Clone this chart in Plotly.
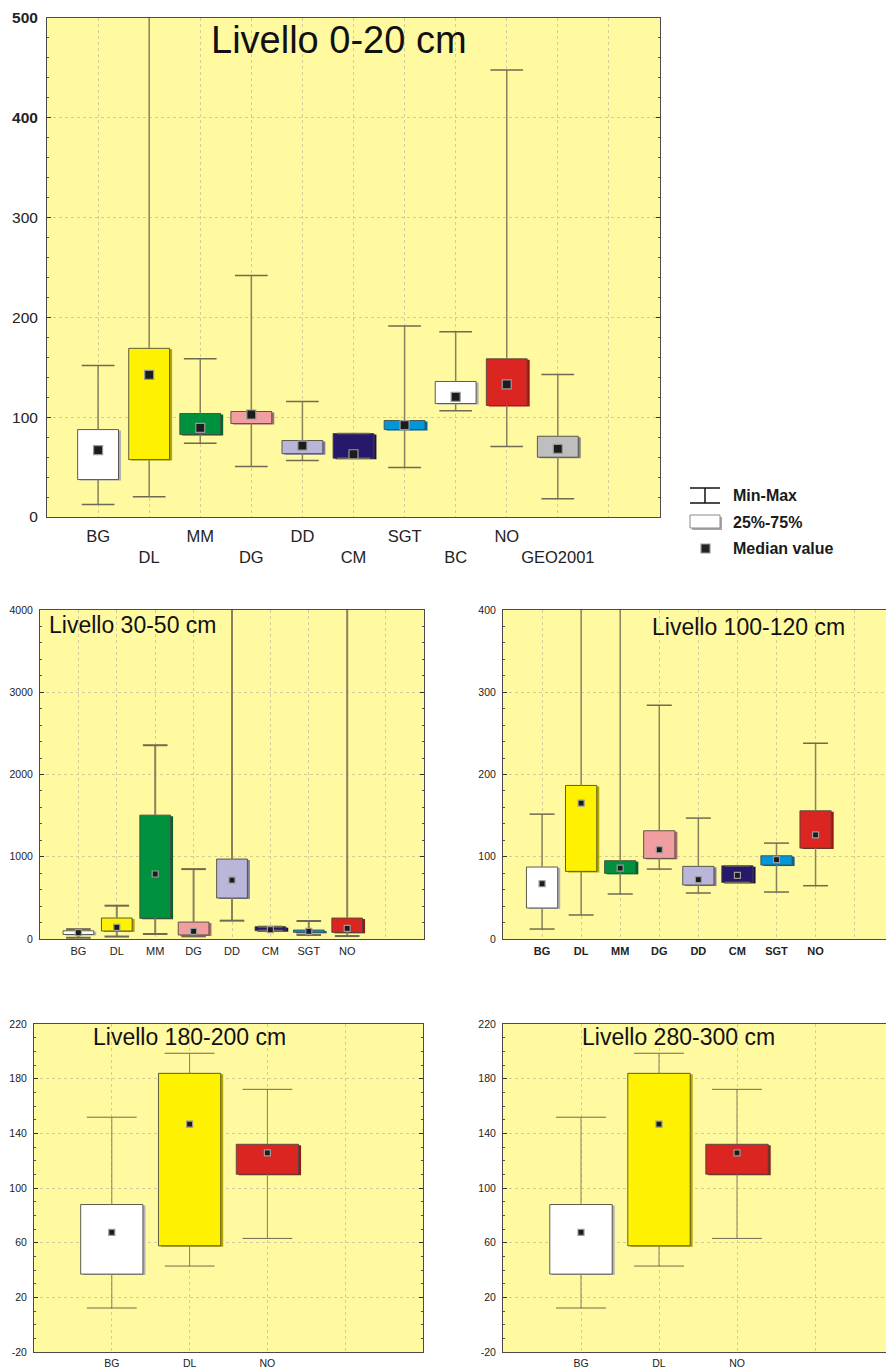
import plotly.graph_objects as go

FIG_W, FIG_H = 886, 1371

# Fill colour of each sampling group
COLORS = {
    "BG": "#ffffff", "DL": "#fff200", "MM": "#00913f", "DG": "#f19ea0",
    "DD": "#b9b6da", "CM": "#26196c", "SGT": "#0096db", "BC": "#ffffff",
    "NO": "#da2520", "GEO2001": "#bebebe",
}

# ---- Livello 0-20 cm ----
cats_0_20 = ["BG", "DL", "MM", "DG", "DD", "CM", "SGT", "BC", "NO", "GEO2001"]
min_0_20 = [12.4, 20.4, 73.9, 50.5, 56.5, 58.9, 49.5, 106.4, 70.6, 18.4]
q1_0_20 = [37.5, 57.5, 82.6, 93.6, 63.5, 58.9, 87.6, 113.7, 111.7, 59.9]
med_0_20 = [67.0, 142.5, 89.3, 102.7, 71.6, 62.9, 92.0, 120.4, 132.8, 68.2]
q3_0_20 = [87.6, 169.0, 103.7, 105.7, 76.6, 83.6, 96.7, 135.8, 158.5, 80.9]
max_0_20 = [151.8, 620.0, 158.5, 242.0, 115.7, 83.6, 191.3, 185.6, 448.0, 142.8]

# ---- Livello 30-50 cm ----
cats_30_50 = ["BG", "DL", "MM", "DG", "DD", "CM", "SGT", "NO"]
min_30_50 = [15, 30, 61, 32, 223, 101, 49, 36]
q1_30_50 = [55, 97, 251, 49, 498, 101, 81, 81]
med_30_50 = [78, 142, 790, 93, 717, 113, 93, 130]
q3_30_50 = [100, 255, 1506, 206, 972, 150, 109, 255]
max_30_50 = [120, 405, 2356, 850, 5200, 150, 219, 4600]

# ---- Livello 100-120 cm ----
cats_100_120 = ["BG", "DL", "MM", "DG", "DD", "CM", "SGT", "NO"]
min_100_120 = [12.1, 29.2, 54.7, 85.0, 55.9, 68.8, 57.1, 64.8]
q1_100_120 = [37.7, 82.2, 79.8, 98.0, 65.6, 68.8, 89.9, 110.5]
med_100_120 = [67.2, 165.2, 86.2, 108.5, 72.1, 77.3, 96.4, 126.7]
q3_100_120 = [87.5, 186.7, 95.2, 131.6, 88.3, 89.0, 101.2, 155.9]
max_100_120 = [151.8, 520.0, 540.0, 284.2, 147.0, 89.0, 116.6, 238.0]

# ---- Livello 180-200 cm ----
cats_180_200 = ["BG", "DL", "NO"]
min_180_200 = [12.2, 42.9, 63.1]
q1_180_200 = [37.0, 57.7, 110.1]
med_180_200 = [67.5, 146.7, 125.7]
q3_180_200 = [87.9, 183.9, 132.0]
max_180_200 = [151.8, 198.6, 172.2]

# ---- Livello 280-300 cm ----
cats_280_300 = ["BG", "DL", "NO"]
min_280_300 = [12.2, 42.9, 63.1]
q1_280_300 = [37.0, 57.7, 110.1]
med_280_300 = [67.5, 146.7, 125.7]
q3_280_300 = [87.9, 183.9, 132.0]
max_280_300 = [151.8, 198.6, 172.2]

legend_labels = ["Min-Max", "25%-75%", "Median value"]

FONT = "Arial, Liberation Sans, sans-serif"
BG_YELLOW = "#fff9a0"
GRID = "#d4ce96"
WHISK = "#87835e"
CAP = "#6f6b52"


def px(x):
    return x / FIG_W


def py(y):
    return 1 - y / FIG_H


def darker(hex_color, f=0.7):
    h = hex_color.lstrip("#")
    r, g, b = (int(h[i:i + 2], 16) for i in (0, 2, 4))
    return f"rgb({int(r * f)},{int(g * f)},{int(b * f)})"


fig = go.Figure()


def add_panel(n, cats, lo, q1, med, q3, hi, *, box, xspan, yrange, dtick, tick0,
              minor, xfont, yfont, stagger=False, bold_x=False, msize=6, wlw=1.0,
              cap=0.64, xstand=6, ystand=4, mirror_y=True, title="", tpos=(0, 0),
              tsize=23, bold_y=()):
    xname = "x" if n == 1 else f"x{n}"
    yname = "y" if n == 1 else f"y{n}"
    x0, y0, x1, y1 = box  # pixel frame of the plotting area
    pos = list(range(1, len(cats) + 1))
    slot_px = (x1 - x0) / xspan

    # whiskers (outside the box only) and end caps
    wx, wy, cx, cy = [], [], [], []
    for p, a, b, c, d in zip(pos, lo, q1, q3, hi):
        wx += [p, p, None, p, p, None]
        wy += [d, c, None, b, a, None]
        cx += [p - cap / 2, p + cap / 2, None, p - cap / 2, p + cap / 2, None]
        cy += [d, d, None, a, a, None]
    fig.add_trace(go.Scatter(x=wx, y=wy, mode="lines", xaxis=xname, yaxis=yname,
                             line=dict(color=WHISK, width=wlw), hoverinfo="skip"))
    fig.add_trace(go.Scatter(x=cx, y=cy, mode="lines", xaxis=xname, yaxis=yname,
                             line=dict(color=CAP, width=wlw), hoverinfo="skip"))

    # shaded edge, then the 25%-75% box
    dx = 2.5 / slot_px
    dy = 1.0 * (yrange[1] - yrange[0]) / (y1 - y0)
    heights = [c - b for b, c in zip(q1, q3)]
    fig.add_trace(go.Bar(x=[p + dx for p in pos], y=heights,
                         base=[b - dy for b in q1], width=0.8, xaxis=xname, yaxis=yname,
                         marker=dict(color=[darker(COLORS[k]) for k in cats],
                                     line=dict(width=0)), hoverinfo="skip"))
    fig.add_trace(go.Bar(x=pos, y=heights, base=q1, width=0.8,
                         xaxis=xname, yaxis=yname,
                         marker=dict(color=[COLORS[k] for k in cats],
                                     line=dict(color="#4a4a40", width=0.9)),
                         hovertemplate="%{x}<extra></extra>"))
    # median squares
    fig.add_trace(go.Scatter(x=pos, y=med, mode="markers", xaxis=xname, yaxis=yname,
                             marker=dict(symbol="square", size=msize, color="#1c1c1c",
                                         line=dict(color="#9a9a9a", width=1.2))))

    labels = []
    for i, c in enumerate(cats):
        t = f"<b>{c}</b>" if bold_x else c
        labels.append("<br>" + t if (stagger and i % 2 == 1) else t)
    labels.append("")

    ax = dict(domain=[px(x0), px(x1)], range=[0, xspan], anchor=yname,
              tickvals=pos + [len(cats) + 1], ticktext=labels, tickangle=0,
              automargin=False,
              showgrid=True, gridcolor=GRID, griddash="dot", gridwidth=1,
              zeroline=False, showline=True, linecolor="#4a4a4a", linewidth=1,
              mirror=True, ticks="", ticklabelstandoff=xstand,
              tickfont=dict(family=FONT, size=xfont, color="#222"))
    yvals = []
    v = tick0
    while v <= yrange[1] + 1e-9:
        yvals.append(v)
        v += dtick
    ytext = [f"<b>{t:g}</b>" if t in bold_y else f"{t:g}" for t in yvals]
    ayx = dict(domain=[py(y1), py(y0)], range=list(yrange), anchor=xname,
               tickvals=yvals, ticktext=ytext, automargin=False,
               showgrid=True, gridcolor=GRID, griddash="dot", gridwidth=1,
               zeroline=False, showline=True, linecolor="#4a4a4a", linewidth=1,
               mirror="ticks" if mirror_y else False, ticks="inside", ticklen=4,
               tickcolor="#333", ticklabelstandoff=ystand,
               minor=dict(dtick=minor, tick0=tick0, ticks="inside", ticklen=2,
                          tickcolor="#555", showgrid=False),
               tickfont=dict(family=FONT, size=yfont, color="#222"))
    key = "" if n == 1 else str(n)
    fig.update_layout({f"xaxis{key}": ax, f"yaxis{key}": ayx})
    fig.add_annotation(text=title, x=px(tpos[0]), y=py(tpos[1]), xref="paper",
                       yref="paper", xanchor="left", yanchor="middle", showarrow=False,
                       font=dict(family=FONT, size=tsize, color="#111"))


add_panel(1, cats_0_20, min_0_20, q1_0_20, med_0_20, q3_0_20, max_0_20,
          box=(47, 18, 660, 517), xspan=12, yrange=(0, 500), dtick=100, tick0=0,
          minor=20, xfont=16.5, yfont=15.5, stagger=True, msize=9, wlw=1.5, xstand=4,
          ystand=5, title="Livello 0-20 cm", tpos=(209, 40), tsize=38, bold_y=(400, 500))

add_panel(2, cats_30_50, min_30_50, q1_30_50, med_30_50, q3_30_50, max_30_50,
          box=(40, 610, 424, 939), xspan=10, yrange=(0, 4000), dtick=1000, tick0=0,
          minor=200, xfont=11, yfont=10.5, msize=6, wlw=2, xstand=2, ystand=4,
          title="Livello 30-50 cm", tpos=(47, 625), tsize=23)

add_panel(3, cats_100_120, min_100_120, q1_100_120, med_100_120, q3_100_120, max_100_120,
          box=(503, 610, 886, 939), xspan=(886 - 503) / 39.07, yrange=(0, 400), dtick=100,
          tick0=0, minor=20, xfont=11, yfont=10.5, bold_x=True, msize=6, wlw=1.5,
          xstand=2, ystand=4, mirror_y=False, title="Livello 100-120 cm",
          tpos=(650, 627), tsize=23)

add_panel(4, cats_180_200, min_180_200, q1_180_200, med_180_200, q3_180_200, max_180_200,
          box=(34, 1024, 423, 1352), xspan=5, yrange=(-20, 220), dtick=40, tick0=-20,
          minor=10, xfont=10.5, yfont=10.5, msize=6, wlw=1, xstand=1, ystand=4,
          title="Livello 180-200 cm", tpos=(91, 1037), tsize=23)

add_panel(5, cats_280_300, min_280_300, q1_280_300, med_280_300, q3_280_300, max_280_300,
          box=(503, 1024, 886, 1352), xspan=(886 - 503) / 78.0, yrange=(-20, 220), dtick=40,
          tick0=-20, minor=10, xfont=10.5, yfont=10.5, msize=6, wlw=1, xstand=1, ystand=4,
          mirror_y=False, title="Livello 280-300 cm", tpos=(580, 1037), tsize=23)

# key for the 0-20 cm panel
shapes = [
    dict(type="line", x0=px(705), x1=px(705), y0=py(488), y1=py(503)),
    dict(type="line", x0=px(690), x1=px(720), y0=py(488), y1=py(488)),
    dict(type="line", x0=px(690), x1=px(720), y0=py(503), y1=py(503)),
]
for s in shapes:
    s.update(xref="paper", yref="paper", line=dict(color="#111", width=1.5))
shapes += [
    dict(type="rect", xref="paper", yref="paper", x0=px(692), x1=px(722), y0=py(530),
         y1=py(517), fillcolor="#a8a8a8", line=dict(width=0)),
    dict(type="rect", xref="paper", yref="paper", x0=px(690), x1=px(720), y0=py(528),
         y1=py(515), fillcolor="#ffffff", line=dict(color="#8a8a8a", width=1)),
    dict(type="rect", xref="paper", yref="paper", x0=px(701), x1=px(710), y0=py(553),
         y1=py(544), fillcolor="#222", line=dict(color="#9a9a9a", width=1.2)),
]
fig.update_layout(shapes=shapes)
for lab, yy in zip(legend_labels, [496, 522, 549]):
    fig.add_annotation(text=f"<b>{lab}</b>", x=px(731), y=py(yy), xref="paper", yref="paper",
                       xanchor="left", yanchor="middle", showarrow=False,
                       font=dict(family=FONT, size=16, color="#1a1a1a"))

fig.update_layout(width=FIG_W, height=FIG_H, margin=dict(l=0, r=0, t=0, b=0),
                  paper_bgcolor="white", plot_bgcolor=BG_YELLOW, showlegend=False,
                  barmode="overlay")

# page without default body margin, so the figure fills the window exactly
fig.write_html(
    "out.html",
    post_script="document.body.style.margin='0';document.body.style.overflow='hidden';",
)
